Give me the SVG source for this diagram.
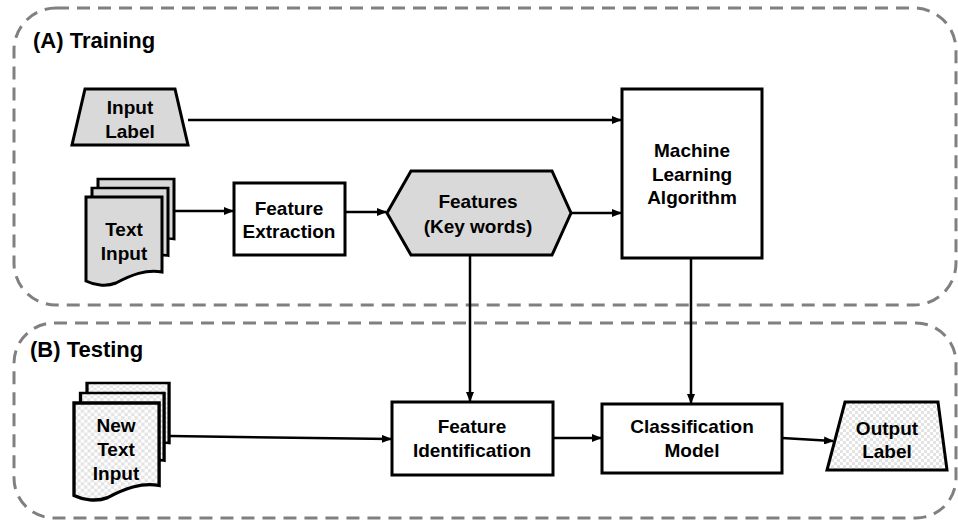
<svg xmlns="http://www.w3.org/2000/svg" width="958" height="520" viewBox="0 0 958 520">
<defs>
<pattern id="chk" width="6" height="6" patternUnits="userSpaceOnUse">
<rect width="6" height="6" fill="#ffffff"/>
<rect width="3" height="3" fill="#e3e3e3"/>
<rect x="3" y="3" width="3" height="3" fill="#e3e3e3"/>
</pattern>
<marker id="ah" markerWidth="10" markerHeight="8" refX="9" refY="4" orient="auto" markerUnits="userSpaceOnUse">
<path d="M0,0 L10,4 L0,8 Z" fill="#000"/>
</marker>
<path id="doc" d="M0,0 H76 V75 C60,72 45,78 30,86 C20,90 8,88 0,84 Z"/>
</defs>
<style>
.box{fill:#fff;stroke:#000;stroke-width:3}
.grey{fill:#d9d9d9;stroke:#000;stroke-width:3}
.chk{fill:url(#chk);stroke:#000;stroke-width:3}
.t{font-family:"Liberation Sans",Arial,sans-serif;font-weight:bold;font-size:19px;fill:#000;text-anchor:middle}
.h{font-family:"Liberation Sans",Arial,sans-serif;font-weight:bold;font-size:22px;fill:#000}
.c{fill:none;stroke:#000;stroke-width:2.5;marker-end:url(#ah)}
.dash{fill:none;stroke:#808080;stroke-width:3;stroke-dasharray:13 8}
</style>
<g id="containerA">
<rect class="dash" x="14" y="8" width="942" height="297" rx="42" ry="42"/>
<text class="h" x="33" y="48">(A) Training</text>
</g>
<g id="containerB">
<rect class="dash" x="14" y="323" width="942" height="195" rx="40" ry="40"/>
<text class="h" x="30" y="357">(B) Testing</text>
</g>
<g id="connectors">
<line class="c" x1="188" y1="120" x2="621" y2="120"/>
<line class="c" x1="174" y1="211" x2="233" y2="211"/>
<line class="c" x1="345" y1="212" x2="386" y2="212"/>
<line class="c" x1="571" y1="213" x2="621" y2="213"/>
<line class="c" x1="470" y1="255" x2="470" y2="401"/>
<line class="c" x1="691" y1="258" x2="691" y2="403"/>
<line class="c" x1="170" y1="436" x2="391" y2="439"/>
<line class="c" x1="553" y1="438" x2="601" y2="438"/>
<line class="c" x1="782" y1="438" x2="833" y2="441"/>
</g>
<g id="inputLabel">
<polygon class="grey" points="85,89 175,89 188,145 72,145"/>
<text class="t" x="130" y="114">Input</text>
<text class="t" x="130" y="138">Label</text>
</g>
<g id="textInput">
<use href="#doc" class="grey" transform="translate(98,179) scale(1,0.8)"/>
<use href="#doc" class="grey" transform="translate(92,188) scale(1,0.9)"/>
<use href="#doc" class="grey" transform="translate(86,197)"/>
<text class="t" x="124" y="236">Text</text>
<text class="t" x="124" y="260">Input</text>
</g>
<g id="featureExtraction">
<rect class="box" x="234" y="183" width="111" height="72"/>
<text class="t" x="289" y="215">Feature</text>
<text class="t" x="289" y="238">Extraction</text>
</g>
<g id="features">
<polygon class="grey" points="387,213 411,171 552,171 571,213 552,255 411,255"/>
<text class="t" x="478" y="208">Features</text>
<text class="t" x="478" y="233">(Key words)</text>
</g>
<g id="mlAlgorithm">
<rect class="box" x="622" y="89" width="140" height="169"/>
<text class="t" x="692" y="157">Machine</text>
<text class="t" x="692" y="181">Learning</text>
<text class="t" x="692" y="204">Algorithm</text>
</g>
<g id="newTextInput">
<use href="#doc" class="chk" transform="translate(87,383) scale(1.08,0.8)"/>
<use href="#doc" class="chk" transform="translate(80.5,393) scale(1.1,0.9)"/>
<use href="#doc" class="chk" transform="translate(74,403) scale(1.12,1.1)"/>
<text class="t" x="116" y="432">New</text>
<text class="t" x="116" y="456">Text</text>
<text class="t" x="116" y="480">Input</text>
</g>
<g id="featureIdentification">
<rect class="box" x="392" y="402" width="161" height="73"/>
<text class="t" x="472" y="433">Feature</text>
<text class="t" x="472" y="457">Identification</text>
</g>
<g id="classificationModel">
<rect class="box" x="602" y="404" width="180" height="69"/>
<text class="t" x="692" y="433">Classification</text>
<text class="t" x="692" y="457">Model</text>
</g>
<g id="outputLabel">
<polygon class="chk" points="845,402 938,402 947,470 827,470"/>
<text class="t" x="887" y="435">Output</text>
<text class="t" x="887" y="458">Label</text>
</g>
</svg>
